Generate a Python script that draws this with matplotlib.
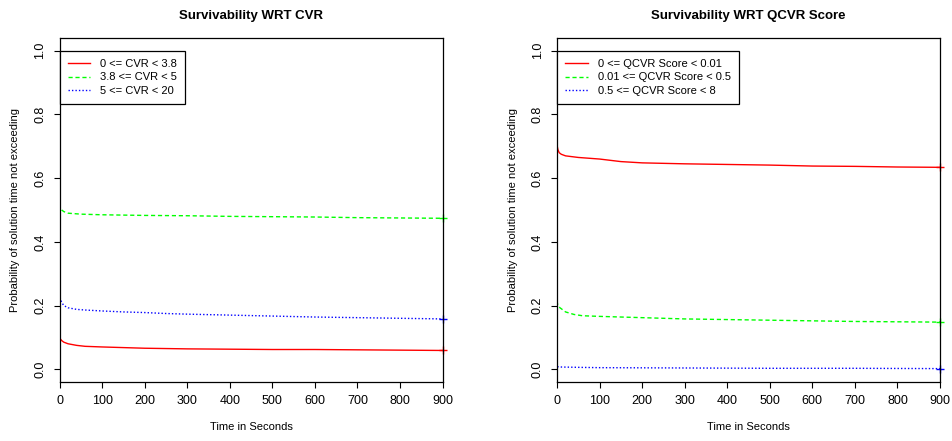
import matplotlib
matplotlib.use("Agg")
import matplotlib.pyplot as plt

plt.rcParams['font.family'] = ['Liberation Sans', 'DejaVu Sans']

# survival curves (time in seconds, probability)
cvr_labels = ["0 <= CVR < 3.8", "3.8 <= CVR < 5", "5 <= CVR < 20"]
cvr_t1 = [0, 0.5, 2, 5, 10, 20, 40, 60, 100, 150, 200, 300, 400, 500, 600, 700, 800, 900]
cvr_s1 = [1.0, 0.10, 0.095, 0.09, 0.085, 0.08, 0.075, 0.072, 0.070, 0.068, 0.066, 0.064,
          0.063, 0.062, 0.062, 0.061, 0.060, 0.059]
cvr_t2 = [0, 0.5, 2, 5, 10, 20, 50, 100, 200, 300, 400, 500, 600, 700, 800, 900]
cvr_s2 = [1.0, 0.51, 0.505, 0.50, 0.495, 0.49, 0.487, 0.485, 0.483, 0.482, 0.480, 0.479,
          0.478, 0.476, 0.475, 0.474]
cvr_t3 = [0, 0.5, 2, 5, 10, 20, 40, 60, 100, 150, 200, 250, 300, 400, 500, 600, 700, 800, 900]
cvr_s3 = [1.0, 0.24, 0.22, 0.21, 0.20, 0.193, 0.188, 0.186, 0.183, 0.180, 0.178, 0.175,
          0.173, 0.170, 0.167, 0.164, 0.162, 0.160, 0.158]

qcvr_labels = ["0 <= QCVR Score < 0.01", "0.01 <= QCVR Score < 0.5", "0.5 <= QCVR Score < 8"]
qcvr_t1 = [0, 0.5, 2, 5, 10, 20, 50, 100, 150, 200, 300, 400, 500, 600, 700, 800, 900]
qcvr_s1 = [1.0, 0.70, 0.69, 0.68, 0.675, 0.67, 0.665, 0.66, 0.652, 0.648, 0.645, 0.643,
           0.641, 0.638, 0.637, 0.635, 0.634]
qcvr_t2 = [0, 0.5, 2, 5, 10, 20, 40, 60, 100, 200, 300, 400, 500, 600, 700, 800, 900]
qcvr_s2 = [1.0, 0.21, 0.20, 0.195, 0.19, 0.18, 0.172, 0.168, 0.166, 0.162, 0.158, 0.156,
           0.154, 0.152, 0.150, 0.149, 0.148]
qcvr_t3 = [0, 0.5, 10, 50, 100, 300, 500, 700, 900]
qcvr_s3 = [1.0, 0.008, 0.007, 0.006, 0.005, 0.004, 0.003, 0.003, 0.002]

colors = ["#ff0000", "#00ff00", "#0000ff"]
styles = ["-", (0, (3, 2)), (0, (1, 1.5))]

fig = plt.figure(figsize=(9.53, 4.41), dpi=100)
ax1 = fig.add_axes([0.0625, 0.1338, 0.4019, 0.780])
ax2 = fig.add_axes([0.5845, 0.1338, 0.4019, 0.780])

panels = [
    (ax1, "Survivability WRT CVR", cvr_labels,
     [(cvr_t1, cvr_s1), (cvr_t2, cvr_s2), (cvr_t3, cvr_s3)]),
    (ax2, "Survivability WRT QCVR Score", qcvr_labels,
     [(qcvr_t1, qcvr_s1), (qcvr_t2, qcvr_s2), (qcvr_t3, qcvr_s3)]),
]

for ax, title, labels, curves in panels:
    for (t, s), lab, c, ls in zip(curves, labels, colors, styles):
        ax.plot(t, s, color=c, linestyle=ls, linewidth=1, label=lab)
        ax.plot(t[-1], s[-1], marker='+', color=c, markersize=6, clip_on=False)
    ax.set_xlim(0, 900)
    ax.set_ylim(-0.04, 1.04)
    ax.set_xticks(range(0, 901, 100))
    ax.set_yticks([0.0, 0.2, 0.4, 0.6, 0.8, 1.0])
    ax.set_yticklabels(["0.0", "0.2", "0.4", "0.6", "0.8", "1.0"], rotation=90, va='center')
    ax.tick_params(labelsize=9, length=4.5, width=0.8, pad=5)
    for sp in ax.spines.values():
        sp.set_linewidth(0.9)
    ax.set_title(title, fontsize=9.5, fontweight='bold', pad=14)
    ax.set_xlabel("Time in Seconds", fontsize=8, labelpad=11)
    ax.set_ylabel("Probability of solution time not exceeding", fontsize=8, labelpad=10)
    leg = ax.legend(loc='upper left', bbox_to_anchor=(0, 1.0), bbox_transform=ax.transData,
                    fontsize=8, frameon=True, fancybox=False, borderaxespad=0,
                    handlelength=2.0, labelspacing=0.3, borderpad=0.75, handletextpad=0.9)
    leg.get_frame().set_edgecolor('black')
    leg.get_frame().set_linewidth(0.9)
    leg.get_frame().set_alpha(1)

fig.savefig("out.png", dpi=100)
